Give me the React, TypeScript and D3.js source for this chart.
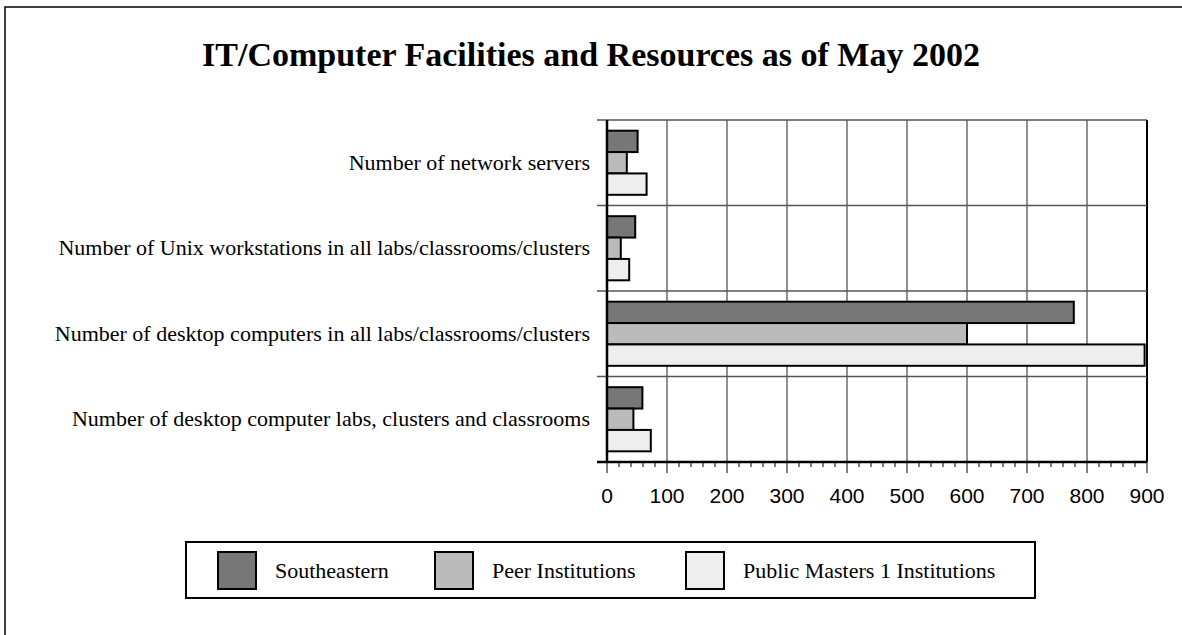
import React from 'react';
import * as d3 from 'd3';

const categories = [
  'Number of network servers',
  'Number of Unix workstations in all labs/classrooms/clusters',
  'Number of desktop computers in all labs/classrooms/clusters',
  'Number of desktop computer labs, clusters and classrooms',
];
const seriesNames = ['Southeastern', 'Peer Institutions', 'Public Masters 1 Institutions'];
const southeastern = [51, 47, 778, 59];
const peer = [33, 23, 600, 44];
const publicMasters = [66, 37, 896, 73];
const seriesColors = ['#777777', '#bbbbbb', '#eeeeee'];
const xTicks = [0, 100, 200, 300, 400, 500, 600, 700, 800, 900];

const W = 1182;
const H = 635;

export default function App() {
  const x = d3.scaleLinear().domain([0, 900]).range([607, 1147]);
  const y = d3.scaleBand<string>().domain(categories).range([120, 462]);
  const inner = d3.scaleBand<string>().domain(seriesNames).range([0, y.bandwidth()]).paddingOuter(0.5);
  const values = [southeastern, peer, publicMasters];
  const minor = d3.range(0, 901, 20);
  const serif = '"Liberation Serif", "Times New Roman", serif';
  const sans = '"Liberation Sans", Arial, sans-serif';

  // legend layout
  const legendX = [218, 435, 686];

  return (
    <svg width={W} height={H} style={{ position: 'absolute', left: 0, top: 0, background: '#fff' }}>
      {/* outer frame (only left and top are visible) */}
      <rect x={5} y={7} width={W + 20} height={H + 20} fill="none" stroke="#000" strokeWidth={1.5} />

      <text x={591} y={66} textAnchor="middle" fontFamily={serif} fontWeight="bold" fontSize={34}>
        IT/Computer Facilities and Resources as of May 2002
      </text>

      {/* vertical gridlines */}
      {xTicks.slice(1).map(t => (
        <line key={'g' + t} x1={x(t)} x2={x(t)} y1={120} y2={462}
          stroke={t === 900 ? '#000' : '#555'} strokeWidth={t === 900 ? 2 : 1.3} />
      ))}
      {/* category separators */}
      {categories.map(c => (
        <line key={'s' + c} x1={597} x2={1147} y1={y(c)!} y2={y(c)!} stroke="#555" strokeWidth={1.3} />
      ))}

      {/* bars */}
      {categories.map((c, ci) => (
        <g key={c} transform={`translate(0,${y(c)})`}>
          {seriesNames.map((s, si) => (
            <rect key={s} x={x(0)} y={inner(s)!} width={x(values[si][ci]) - x(0)} height={inner.bandwidth()}
              fill={seriesColors[si]} stroke="#000" strokeWidth={2} />
          ))}
        </g>
      ))}

      {/* axes */}
      <line x1={607} x2={607} y1={120} y2={462} stroke="#000" strokeWidth={2.5} />
      <line x1={597} x2={1147} y1={462} y2={462} stroke="#000" strokeWidth={2.5} />
      {minor.map(t => (
        <line key={'m' + t} x1={x(t)} x2={x(t)} y1={462} y2={t % 100 === 0 ? 473 : 467}
          stroke="#000" strokeWidth={1} />
      ))}
      {xTicks.map(t => (
        <text key={'t' + t} x={x(t)} y={503} textAnchor="middle" fontFamily={sans} fontSize={21}>{t}</text>
      ))}

      {/* category labels */}
      {categories.map(c => (
        <text key={'l' + c} x={590} y={y(c)! + y.bandwidth() / 2 + 7} textAnchor="end" fontFamily={serif} fontSize={22}>
          {c}
        </text>
      ))}

      {/* legend */}
      <rect x={186} y={542} width={849} height={56} fill="#fff" stroke="#000" strokeWidth={2} />
      {seriesNames.map((s, i) => (
        <g key={'lg' + s}>
          <rect x={legendX[i]} y={552} width={38} height={37} fill={seriesColors[i]} stroke="#000" strokeWidth={2} />
          <text x={legendX[i] + 57} y={578} fontFamily={serif} fontSize={22}>{s}</text>
        </g>
      ))}
    </svg>
  );
}
